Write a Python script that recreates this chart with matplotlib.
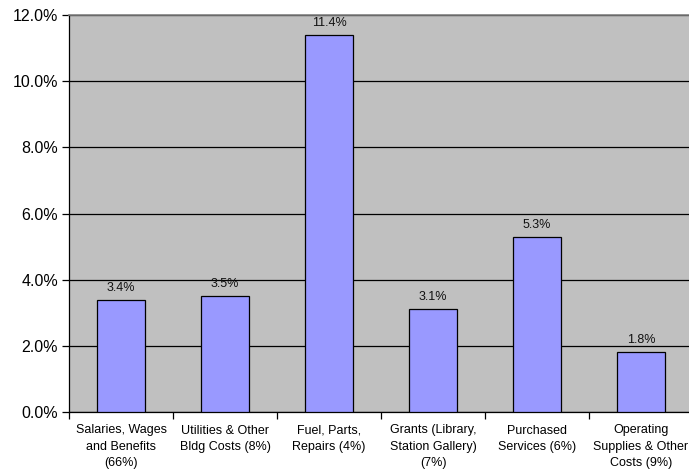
import matplotlib
matplotlib.use("Agg")
import matplotlib.pyplot as plt
from matplotlib.ticker import FuncFormatter, MultipleLocator

categories = [
    "Salaries, Wages\nand Benefits\n(66%)",
    "Utilities & Other\nBldg Costs (8%)",
    "Fuel, Parts,\nRepairs (4%)",
    "Grants (Library,\nStation Gallery)\n(7%)",
    "Purchased\nServices (6%)",
    "Operating\nSupplies & Other\nCosts (9%)",
]
increase_pct = [3.4, 3.5, 11.4, 3.1, 5.3, 1.8]

plt.rcParams["font.family"] = ["Liberation Sans", "DejaVu Sans"]

fig = plt.figure(figsize=(6.89, 4.70), dpi=100)
ax = fig.add_axes([69 / 689, 58 / 470, 624 / 689, 397 / 470])
ax.set_facecolor("#C0C0C0")

x = list(range(len(categories)))
ax.bar(x, increase_pct, width=0.46, color="#9999FF", edgecolor="black",
       linewidth=0.9, zorder=3)

for xi, v in zip(x, increase_pct):
    ax.text(xi, v + 0.18, f"{v:.1f}%", ha="center", va="bottom",
            fontsize=9, color="#111111", zorder=4)

ax.set_xlim(-0.5, len(categories) - 0.5)
ax.set_ylim(0, 12)
ax.yaxis.set_major_locator(MultipleLocator(2))
ax.yaxis.set_major_formatter(FuncFormatter(lambda v, p: f"{v:.1f}%"))
ax.grid(axis="y", color="black", linewidth=0.9, zorder=1)

# Category boundary ticks on the major axis, names centred under bars
ax.set_xticks([i + 0.5 for i in range(-1, len(categories))], minor=False)
ax.set_xticklabels([])
ax.set_xticks(x, minor=True)
ax.set_xticklabels(categories, minor=True, fontsize=9, linespacing=1.45)
ax.tick_params(axis="x", which="minor", length=0, pad=9)
ax.tick_params(axis="x", which="major", length=5, direction="out", width=0.9)
ax.tick_params(axis="y", length=5, direction="out", width=0.9, labelsize=11.5, pad=3)

ax.spines["right"].set_visible(False)
ax.spines["top"].set_color("#808080")
ax.spines["top"].set_linewidth(1.2)
ax.spines["left"].set_linewidth(0.9)
ax.spines["bottom"].set_linewidth(0.9)

fig.savefig("out.png", dpi=100)
